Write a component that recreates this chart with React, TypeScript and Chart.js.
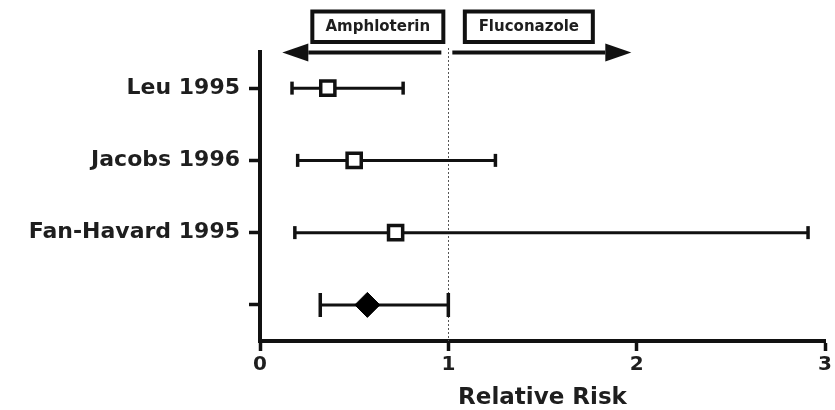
import { useEffect, useRef } from 'react';
import { Chart, registerables } from 'chart.js';

Chart.register(...registerables);

// ---- data ----
const studyLabels = ['Leu 1995', 'Jacobs 1996', 'Fan-Havard 1995'];
const pooledLabel = '';
const studyRR = [0.36, 0.5, 0.72];
const studyLower = [0.17, 0.2, 0.185];
const studyUpper = [0.76, 1.25, 2.91];
const pooledRR = [0.57];
const pooledLower = [0.32];
const pooledUpper = [1.0];
const xTickValues = [0, 1, 2, 3];
const nullValue = 1;
const leftLabel = 'Amphloterin';
const rightLabel = 'Fluconazole';
const axisTitle = 'Relative Risk';

const INK = '#111';
const TEXT = '#1e1e1e';
const FONT = 'DejaVu Sans';

const annotationPlugin = {
  id: 'annot',
  beforeDatasetsDraw(chart: any) {
    const { ctx, chartArea, scales } = chart;
    const px = Math.round(scales.x.getPixelForValue(nullValue)) + 0.5;
    ctx.save();
    ctx.strokeStyle = '#555';
    ctx.lineWidth = 1;
    ctx.setLineDash([2, 2]);
    ctx.beginPath();
    ctx.moveTo(px, chartArea.top - 4);
    ctx.lineTo(px, chartArea.bottom);
    ctx.stroke();
    ctx.restore();
  },
  afterDraw(chart: any) {
    const { ctx, chartArea, scales } = chart;
    const px = scales.x.getPixelForValue(nullValue);
    const ay = chartArea.top + 0.5;
    ctx.save();
    const drawBox = (x0: number, x1: number, text: string) => {
      ctx.lineWidth = 4;
      ctx.strokeStyle = INK;
      ctx.strokeRect(x0, 11.5, x1 - x0, 30.5);
      ctx.fillStyle = TEXT;
      ctx.font = `bold 15px "${FONT}"`;
      ctx.textAlign = 'center';
      ctx.textBaseline = 'middle';
      ctx.fillText(text, (x0 + x1) / 2, 27);
    };
    drawBox(px - 136, px - 5, leftLabel);
    drawBox(px + 16.5, px + 144.5, rightLabel);

    const drawArrow = (from: number, tip: number) => {
      const dir = Math.sign(tip - from);
      const headLen = 26;
      ctx.strokeStyle = INK;
      ctx.lineWidth = 4;
      ctx.beginPath();
      ctx.moveTo(from, ay);
      ctx.lineTo(tip - dir * headLen, ay);
      ctx.stroke();
      ctx.fillStyle = INK;
      ctx.beginPath();
      ctx.moveTo(tip, ay);
      ctx.lineTo(tip - dir * headLen, ay - 9);
      ctx.lineTo(tip - dir * headLen, ay + 9);
      ctx.closePath();
      ctx.fill();
    };
    drawArrow(px - 7, px - 166);
    drawArrow(px + 4, px + 183);
    ctx.restore();
  },
};

export default function App() {
  const ref = useRef<HTMLCanvasElement | null>(null);

  useEffect(() => {
    document.body.style.margin = '0';
    if (!ref.current) return;

    const ciDatasets = studyLabels.map((label, i) => ({
      type: 'scatter' as const,
      data: [
        { x: studyLower[i], y: label },
        { x: studyUpper[i], y: label },
      ],
      showLine: true,
      borderColor: INK,
      borderWidth: 3,
      pointStyle: 'line',
      pointRotation: 90,
      pointRadius: 6.5,
      pointBorderWidth: 3.5,
      pointBorderColor: INK,
      pointBackgroundColor: INK,
      order: 2,
    }));

    const pooledCI = {
      type: 'scatter' as const,
      data: [
        { x: pooledLower[0], y: pooledLabel },
        { x: pooledUpper[0], y: pooledLabel },
      ],
      showLine: true,
      borderColor: INK,
      borderWidth: 3,
      pointStyle: 'line',
      pointRotation: 90,
      pointRadius: 12,
      pointBorderWidth: 3.5,
      pointBorderColor: INK,
      pointBackgroundColor: INK,
      order: 2,
    };

    const studyMarkers = {
      type: 'scatter' as const,
      data: studyLabels.map((label, i) => ({ x: studyRR[i], y: label })),
      pointStyle: 'rect',
      pointRadius: 10,
      pointBorderWidth: 3.5,
      pointBorderColor: INK,
      pointBackgroundColor: '#fff',
      order: 0,
    };

    const pooledMarker = {
      type: 'scatter' as const,
      data: pooledRR.map((v) => ({ x: v, y: pooledLabel })),
      pointStyle: 'rectRot',
      pointRadius: 12.5,
      pointBorderWidth: 1,
      pointBorderColor: '#000',
      pointBackgroundColor: '#000',
      order: 0,
    };

    const chart = new Chart(ref.current, {
      type: 'scatter',
      data: {
        datasets: [...ciDatasets, pooledCI, studyMarkers, pooledMarker] as any,
      },
      plugins: [annotationPlugin],
      options: {
        animation: false,
        responsive: false,
        devicePixelRatio: 1,
        layout: { autoPadding: false, padding: { top: 52, right: 10, left: 0, bottom: 0 } },
        plugins: { legend: { display: false }, tooltip: { enabled: false } },
        scales: {
          x: {
            type: 'linear',
            min: 0,
            max: 3,
            afterBuildTicks: (s: any) => {
              s.ticks = xTickValues.map((v) => ({ value: v }));
            },
            afterFit: (s: any) => {
              s.height = 69;
            },
            ticks: {
              color: TEXT,
              font: { family: FONT, weight: 'bold', size: 20 },
              padding: 2,
              maxRotation: 0,
            },
            grid: {
              drawOnChartArea: false,
              drawTicks: true,
              tickLength: 10,
              tickWidth: 3.5,
              tickColor: INK,
            },
            border: { display: true, width: 4, color: INK },
            title: {
              display: true,
              text: axisTitle,
              color: TEXT,
              font: { family: FONT, weight: 'bold', size: 23, lineHeight: 1.0 },
              padding: { top: 0, bottom: 0 },
            },
          },
          y: {
            type: 'category',
            labels: [...studyLabels, pooledLabel],
            offset: true,
            afterFit: (s: any) => {
              s.width = 260;
            },
            ticks: {
              color: TEXT,
              font: { family: FONT, weight: 'bold', size: 22 },
              padding: 9,
              autoSkip: false,
            },
            grid: {
              offset: false,
              drawOnChartArea: false,
              drawTicks: true,
              tickLength: 11,
              tickWidth: 3.5,
              tickColor: INK,
            },
            border: { display: true, width: 4, color: INK },
          },
        },
      } as any,
    });

    return () => chart.destroy();
  }, []);

  return (
    <canvas
      ref={ref}
      width={835}
      height={410}
      style={{ display: 'block', width: 835, height: 410 }}
    />
  );
}
